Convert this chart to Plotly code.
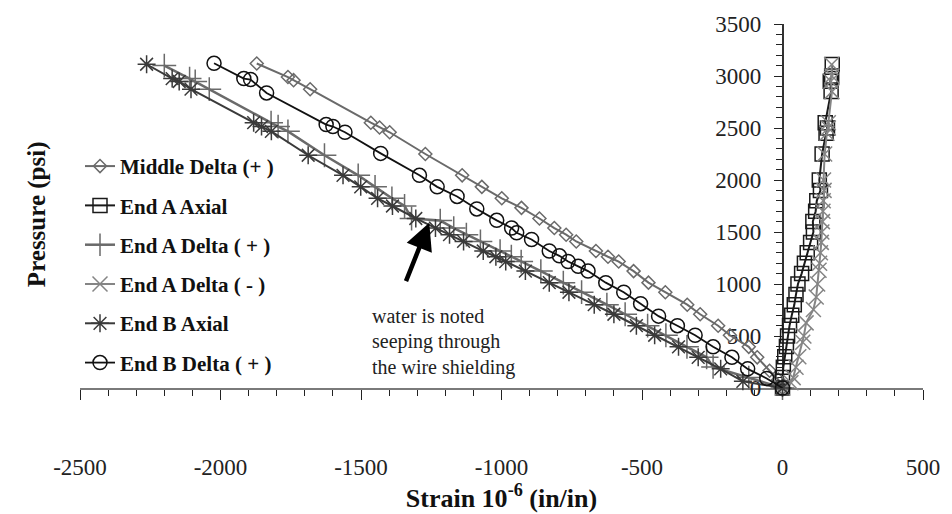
import plotly.graph_objects as go

# ---------------- data (strain in 1e-6 in/in, pressure in psi) ----------------
mid_delta_p = [0, 80, 166, 295, 396, 507, 599, 709, 801, 921, 1013, 1124, 1216, 1262, 1317, 1409, 1474,
               1538, 1630, 1732, 1824, 1934, 2045, 2250, 2459, 2505, 2551, 2873, 2960, 2990, 3120]
mid_delta_s = [0, -15, -46, -90, -120, -187, -229, -293, -339, -417, -477, -530, -583, -621, -664, -734, -770,
               -812, -865, -929, -999, -1070, -1140, -1271, -1398, -1434, -1465, -1681, -1740, -1760, -1871]

end_a_axial_p = [0, 100, 200, 300, 400, 500, 600, 700, 800, 900, 1000, 1100, 1200, 1300, 1400, 1500, 1600,
                 1700, 1800, 1900, 2000, 2250, 2450, 2500, 2550, 2850, 2950, 3000, 3110]
end_a_axial_s = [0, 0, 3, 8, 14, 18, 25, 33, 42, 48, 55, 68, 78, 88, 100, 110, 108,
                 118, 122, 135, 131, 141, 155, 160, 152, 173, 170, 175, 177]

end_a_dplus_p = [0, 100, 203, 295, 396, 507, 599, 709, 801, 921, 1013, 1124, 1216, 1262, 1317, 1409, 1474,
                 1538, 1610, 1630, 1750, 1824, 1934, 2045, 2238, 2468, 2514, 2551, 2873, 2947, 2975, 3100]
end_a_dplus_s = [0, -120, -247, -270, -340, -415, -480, -560, -625, -715, -780, -860, -930, -965, -1005, -1075, -1125,
                 -1170, -1218, -1320, -1345, -1390, -1450, -1510, -1630, -1760, -1795, -1820, -2040, -2090, -2110, -2200]

end_a_dminus_p = [0, 50, 100, 200, 300, 440, 500, 626, 755, 875, 1000, 1133, 1200, 1300, 1400, 1500, 1600,
                  1700, 1800, 1900, 2000, 2250, 2450, 2500, 2550, 2850, 2950, 3000, 3110]
end_a_dminus_s = [0, 30, 38, 48, 58, 72, 76, 84, 110, 120, 125, 130, 132, 135, 138, 140, 142,
                  144, 145, 148, 146, 150, 158, 163, 163, 176, 172, 176, 175]

end_b_axial_p = [0, 64, 184, 295, 396, 507, 599, 709, 801, 921, 1013, 1124, 1216, 1262, 1317, 1409, 1474,
                 1538, 1630, 1750, 1824, 1934, 2045, 2238, 2468, 2514, 2551, 2873, 2947, 2975, 3113]
end_b_axial_s = [0, -141, -220, -300, -370, -455, -520, -600, -670, -760, -830, -915, -985, -1020, -1065, -1135, -1185,
                 -1235, -1305, -1388, -1441, -1501, -1564, -1688, -1819, -1854, -1882, -2105, -2147, -2172, -2263]

end_b_dplus_p = [0, 92, 184, 295, 396, 507, 599, 691, 811, 921, 1013, 1124, 1170, 1216, 1271, 1317, 1428,
                 1492, 1538, 1612, 1722, 1842, 1934, 2045, 2256, 2459, 2514, 2533, 2837, 2966, 2975, 3122]
end_b_dplus_s = [0, -56, -124, -180, -247, -311, -374, -441, -505, -565, -629, -692, -727, -763, -794, -830, -893,
                 -946, -964, -1017, -1088, -1158, -1229, -1292, -1430, -1557, -1600, -1624, -1836, -1893, -1917, -2023]

series_names = ["Middle Delta (+ )", "End A Axial", "End A Delta ( + )",
                "End A Delta ( - )", "End B Axial", "End B Delta ( + )"]

x_range = [-2500, 500]
y_range = [0, 3500]
x_ticks = [-2500, -2000, -1500, -1000, -500, 0, 500]
x_tick_text = ["-2500", "-2000", "-1500", "-1000", "-500", "0", "500"]
y_ticks = [0, 500, 1000, 1500, 2000, 2500, 3000, 3500]
minor_step = 100

note_lines = ["water is noted", "seeping through", "the wire shielding"]
arrow_tip = (-1257, 1590)
arrow_tail = (-1342, 1013)
note_pos = (-1469, 695)

FONT = "Liberation Serif"

# ---------------- styles ----------------
styles = [
    dict(color="#6a6a6a", symbol="diamond-open", size=10, lw=2.0),
    dict(color="#1a1a1a", symbol="square-open", size=14, lw=2.0),
    dict(color="#6a6a6a", symbol="cross-thin-open", size=17, lw=2.5),
    dict(color="#858585", symbol="x-thin-open", size=15, lw=2.0),
    dict(color="#3a3a3a", symbol="asterisk-open", size=15, lw=2.0),
    dict(color="#111111", symbol="circle-open", size=14, lw=1.8),
]
data = [
    (mid_delta_s, mid_delta_p),
    (end_a_axial_s, end_a_axial_p),
    (end_a_dplus_s, end_a_dplus_p),
    (end_a_dminus_s, end_a_dminus_p),
    (end_b_axial_s, end_b_axial_p),
    (end_b_dplus_s, end_b_dplus_p),
]

fig = go.Figure()
for name, (xs, ys), st in zip(series_names, data, styles):
    fig.add_trace(go.Scatter(
        x=xs, y=ys, mode="lines+markers", name=name, legendgroup=name,
        line=dict(color=st["color"], width=st["lw"]),
        marker=dict(symbol=st["symbol"], size=st["size"], color=st["color"],
                    line=dict(color=st["color"], width=1.5)),
        cliponaxis=False,
    ))

# annotations: arrow + note
fig.add_annotation(x=arrow_tip[0], y=arrow_tip[1], ax=arrow_tail[0], ay=arrow_tail[1],
                   xref="x", yref="y", axref="x", ayref="y", text="", showarrow=True,
                   arrowhead=2, arrowsize=1.2, arrowwidth=4.5, arrowcolor="#000000")
for i, line in enumerate(note_lines):
    fig.add_annotation(x=note_pos[0], y=note_pos[1], xref="x", yref="y", text=line,
                       showarrow=False, xanchor="left", yanchor="middle", yshift=-26 * i,
                       font=dict(family=FONT, size=20, color="#222222"))

# y-axis title as annotation (axis sits at x=0)
fig.add_annotation(x=-0.0706, y=0.479, xref="paper", yref="paper", text="<b>Pressure (psi)</b>",
                   textangle=-90, showarrow=False, font=dict(family=FONT, size=25, color="#111111"))

y_pos = (0 - x_range[0]) / (x_range[1] - x_range[0])
x_minor = list(range(x_range[0], x_range[1] + 1, minor_step))
y_minor = list(range(y_range[0], y_range[1] + 1, minor_step))

fig.update_layout(
    width=952, height=514,
    margin=dict(l=80, r=22, t=15, b=119),
    paper_bgcolor="white", plot_bgcolor="white",
    font=dict(family=FONT, color="#222222"),
    showlegend=True,
    legend=dict(x=0.0, y=0.665, xanchor="left", yanchor="top", bgcolor="rgba(0,0,0,0)",
                font=dict(family=FONT, size=21, color="#111111", weight="bold"),
                tracegroupgap=9, traceorder="grouped", itemwidth=30),
    xaxis=dict(range=x_range, tickmode="array", tickvals=x_ticks, ticktext=x_tick_text,
               showgrid=False, zeroline=False,
               showline=True, linecolor="#7a7a7a", linewidth=1.5,
               ticks="outside", ticklen=10, tickcolor="#222222", tickwidth=1,
               minor=dict(tickmode="array", tickvals=x_minor, ticks="outside", ticklen=6,
                          tickcolor="#222222", tickwidth=1, showgrid=False),
               tickfont=dict(family=FONT, size=23, color="#222222"),
               ticklabelstandoff=48, layer="below traces",
               title=dict(text="<b>Strain 10<sup>-6</sup> (in/in)</b>", standoff=3,
                          font=dict(family=FONT, size=26, color="#111111"))),
    yaxis=dict(range=y_range, tickmode="array", tickvals=y_ticks, showgrid=False, zeroline=False,
               anchor="free", position=y_pos, side="left",
               showline=True, linecolor="#333333", linewidth=1.5,
               ticks="outside", ticklen=8, tickcolor="#222222", tickwidth=1,
               minor=dict(tickmode="array", tickvals=y_minor, ticks="outside", ticklen=6,
                          tickcolor="#222222", tickwidth=1, showgrid=False),
               tickfont=dict(family=FONT, size=23, color="#222222"),
               ticklabelstandoff=8, layer="below traces"),
)

fig.write_html("out.html")
